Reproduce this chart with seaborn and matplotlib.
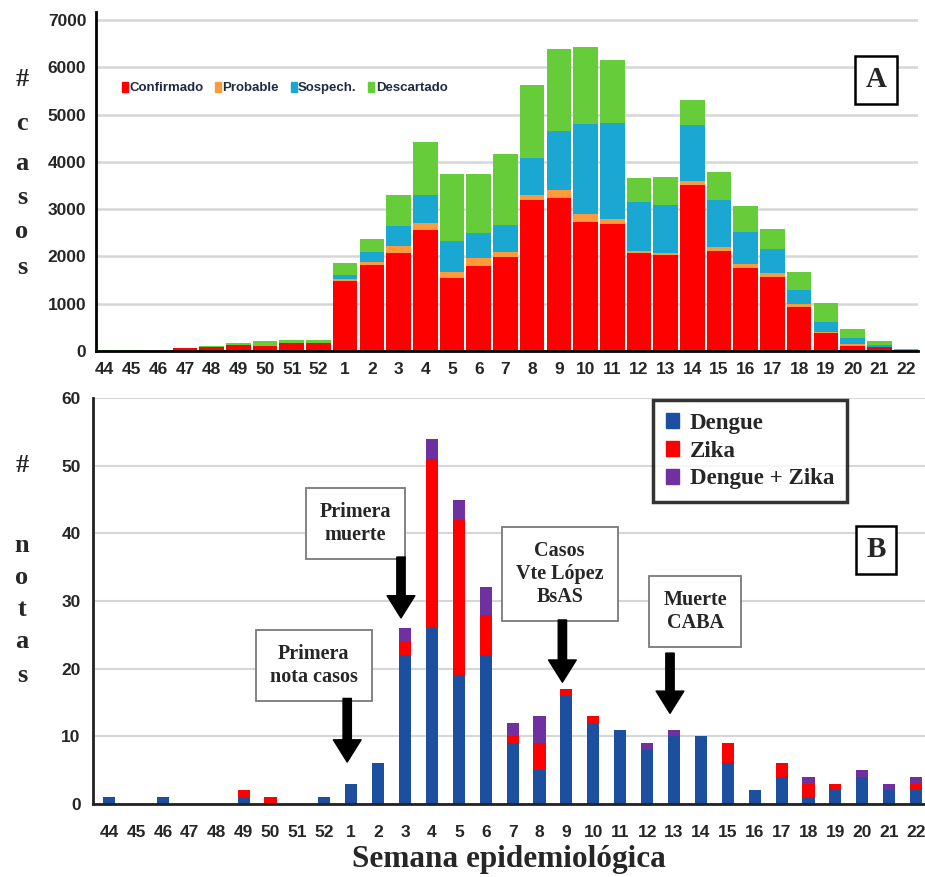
import matplotlib
matplotlib.use("Agg")
import matplotlib.pyplot as plt
from matplotlib.patches import Patch
import pandas as pd
import seaborn as sns

weeks = ['44', '45', '46', '47', '48', '49', '50', '51', '52'] + [str(i) for i in range(1, 23)]

# Panel A: casos por semana (valores apilados)
confirmado = [10, 10, 5, 60, 90, 135, 113, 177, 163,
              1478, 1817, 2075, 2560, 1545, 1796, 1993, 3190, 3246, 2732, 2676,
              2063, 2028, 3507, 2120, 1746, 1570, 937, 387, 113, 77, 10]
probable = [0, 0, 0, 0, 0, 0, 0, 0, 0,
            35, 71, 145, 156, 131, 169, 106, 106, 169, 155, 106,
            57, 49, 85, 84, 92, 85, 56, 21, 28, 15, 0]
sospechoso = [0, 0, 0, 0, 0, 0, 0, 0, 0,
              92, 198, 432, 580, 655, 535, 556, 789, 1240, 1923, 2049,
              1035, 1008, 1183, 986, 669, 493, 296, 212, 127, 35, 15]
descartado = [5, 5, 5, 10, 20, 35, 100, 65, 70,
              262, 276, 644, 1117, 1408, 1246, 1507, 1535, 1739, 1620, 1317,
              493, 591, 528, 592, 556, 422, 387, 387, 197, 84, 10]

# Panel B: notas periodisticas por semana
dengue = [1, 0, 1, 0, 0, 1, 0, 0, 1,
          3, 6, 22, 26, 19, 22, 9, 5, 16, 12, 11,
          8, 10, 10, 6, 2, 4, 1, 2, 4, 2, 2]
zika = [0, 0, 0, 0, 0, 1, 1, 0, 0,
        0, 0, 2, 25, 23, 6, 1, 4, 1, 1, 0,
        0, 0, 0, 3, 0, 2, 2, 1, 0, 0, 1]
dengue_zika = [0, 0, 0, 0, 0, 0, 0, 0, 0,
               0, 0, 2, 3, 3, 4, 2, 4, 0, 0, 0,
               1, 1, 0, 0, 0, 0, 1, 0, 1, 1, 1]

# eventos marcados en B: (texto, semana, x caja, y caja, y inicio flecha, y punta)
events = [("Primera\nnota casos", '1', 7.6, 20.5, 15.6, 6.2),
          ("Primera\nmuerte", '3', 9.16, 41.4, 36.5, 27.5),
          ("Casos\nVte López\nBsAS", '9', 16.75, 34.0, 27.2, 18.0),
          ("Muerte\nCABA", '13', 21.78, 28.4, 22.3, 13.4)]

sns.set_style("white")
plt.rcParams['font.family'] = ['Liberation Sans', 'DejaVu Sans']
serif = ['Liberation Serif', 'DejaVu Serif']

cols_a = ['#ff0000', '#ff9a3c', '#1aa7d2', '#66cc3a']
cols_b = ['#1c4f9f', '#ff0000', '#7030a0']

fig = plt.figure(figsize=(9.25, 8.77), dpi=100)
ax1 = fig.add_axes([96 / 925, 1 - 351 / 877, 822 / 925, 339 / 877])
ax2 = fig.add_axes([93 / 925, 1 - 804 / 877, 832 / 925, 406 / 877])

# ---- Panel A: stacked bars via cumulative sums, tallest drawn first
dfa = pd.DataFrame({'week': weeks, 'Confirmado': confirmado, 'Probable': probable,
                    'Sospech.': sospechoso, 'Descartado': descartado})
series_a = ['Confirmado', 'Probable', 'Sospech.', 'Descartado']
cum_a = dfa[series_a].cumsum(axis=1)
for name, c in reversed(list(zip(series_a, cols_a))):
    sns.barplot(x=dfa['week'], y=cum_a[name], order=weeks, color=c, width=0.92,
                saturation=1, errorbar=None, linewidth=0, ax=ax1)

ax1.set_xlim(-0.33, 30.45)
ax1.set_ylim(0, 7169)
ax1.set_yticks(range(0, 7001, 1000))
ax1.set_xlabel('')
ax1.set_ylabel('')
ax1.yaxis.grid(True, color='#d6d6d6', lw=1.8)
ax1.set_axisbelow(True)
ax1.tick_params(axis='both', length=0, labelsize=12.5)
ax1.tick_params(axis='x', pad=8)
ax1.tick_params(axis='y', pad=7)
for lab in ax1.get_xticklabels() + ax1.get_yticklabels():
    lab.set_fontweight('bold')
for s in ['top', 'right']:
    ax1.spines[s].set_visible(False)
for s in ['left', 'bottom']:
    ax1.spines[s].set_color('black')
    ax1.spines[s].set_linewidth(2)

handles_a = [Patch(color=c, label=n) for n, c in zip(series_a, cols_a)]
leg_a = ax1.legend(handles=handles_a, loc='center left', bbox_to_anchor=(0.025, 0.776),
                   ncol=4, frameon=False, handlelength=0.45, handleheight=0.8,
                   handletextpad=0.1, columnspacing=0.9, borderaxespad=0,
                   prop={'size': 9.5, 'weight': 'bold'})
for t in leg_a.get_texts():
    t.set_color('#1f2b45')

ax1.text(0.949, 0.80, 'A', transform=ax1.transAxes, ha='center', va='center',
         fontsize=21, fontweight='bold', family=serif,
         bbox=dict(boxstyle='square,pad=0.35', fc='white', ec='black', lw=1.8))

# ---- Panel B
dfb = pd.DataFrame({'week': weeks, 'Dengue': dengue, 'Zika': zika, 'Dengue + Zika': dengue_zika})
series_b = ['Dengue', 'Zika', 'Dengue + Zika']
cum_b = dfb[series_b].cumsum(axis=1)
for name, c in reversed(list(zip(series_b, cols_b))):
    sns.barplot(x=dfb['week'], y=cum_b[name], order=weeks, color=c, width=0.45,
                saturation=1, errorbar=None, linewidth=0, ax=ax2)

ax2.set_xlim(-0.6, 30.33)
ax2.set_ylim(0, 60)
ax2.set_yticks(range(0, 61, 10))
ax2.set_xlabel('')
ax2.set_ylabel('')
ax2.yaxis.grid(True, color='#d6d6d6', lw=1.5)
ax2.set_axisbelow(True)
ax2.tick_params(axis='both', length=0, labelsize=12.5)
ax2.tick_params(axis='x', pad=15)
ax2.tick_params(axis='y', pad=9)
for lab in ax2.get_xticklabels() + ax2.get_yticklabels():
    lab.set_fontweight('bold')
for s in ['top', 'right']:
    ax2.spines[s].set_visible(False)
for s in ['left', 'bottom']:
    ax2.spines[s].set_color('#222222')
    ax2.spines[s].set_linewidth(2)

handles_b = [Patch(color=c, label=n) for n, c in zip(series_b, cols_b)]
leg_b = ax2.legend(handles=handles_b, loc='upper left', bbox_to_anchor=(0.673, 0.995),
                   frameon=True, fancybox=False, handlelength=0.6, handleheight=0.6,
                   handletextpad=0.45, labelspacing=0.3, borderpad=0.55, borderaxespad=0,
                   prop={'family': serif, 'size': 16.5, 'weight': 'bold'})
leg_b.get_frame().set_edgecolor('black')
leg_b.get_frame().set_linewidth(2.5)

ax2.text(0.941, 0.626, 'B', transform=ax2.transAxes, ha='center', va='center',
         fontsize=21, fontweight='bold', family=serif,
         bbox=dict(boxstyle='square,pad=0.35', fc='white', ec='black', lw=1.8))

for text, wk, bx, by, y0, y1 in events:
    xi = weeks.index(wk) - 0.15
    ax2.text(bx, by, text, ha='center', va='center', fontsize=14.5, fontweight='bold',
             family=serif, linespacing=1.2, zorder=5,
             bbox=dict(boxstyle='square,pad=0.7', fc='white', ec='#7a7a7a', lw=1.3))
    ax2.annotate('', xy=(xi, y1), xytext=(xi, y0), zorder=6,
                 arrowprops=dict(arrowstyle='simple,head_width=1.0,head_length=0.8,tail_width=0.3',
                                 color='black', mutation_scale=20, shrinkA=0, shrinkB=0))

# vertical stacked y labels
for ch, ypx in zip('#casos', [80, 123, 163, 197, 232, 268]):
    fig.text(22 / 925, 1 - ypx / 877, ch, ha='center', va='center', fontsize=19,
             fontweight='bold', family=serif)
for ch, ypx in zip('#notas', [465, 545, 578, 610, 642, 675]):
    fig.text(22 / 925, 1 - ypx / 877, ch, ha='center', va='center', fontsize=19,
             fontweight='bold', family=serif)

fig.text(509 / 925, 1 - 860 / 877, 'Semana epidemiológica', ha='center', va='center',
         fontsize=22.5, fontweight='bold', family=serif)

fig.savefig('out.png', dpi=100)
